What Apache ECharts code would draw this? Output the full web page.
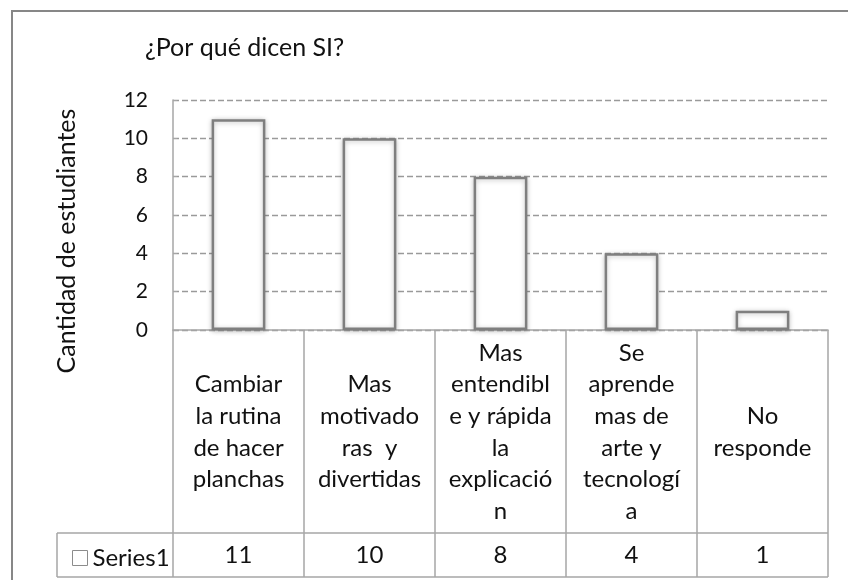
<!DOCTYPE html>
<html><head><meta charset="utf-8">
<script src="https://cdn.jsdelivr.net/npm/echarts@6/dist/echarts.min.js"></script>
<style>html,body{margin:0;padding:0;background:#fff}#c{width:848px;height:580px}</style>
</head><body><div id="c"></div>
<script>
const titleText = '¿Por qué dicen SI?';
const yAxisName = 'Cantidad de estudiantes';
const seriesName = 'Series1';
const categories = [
  'Cambiar\nla rutina\nde hacer\nplanchas',
  'Mas\nmotivado\nras  y\ndivertidas',
  'Mas\nentendibl\ne y rápida\nla\nexplicació\nn',
  'Se\naprende\nmas de\narte y\ntecnologí\na',
  'No\nresponde'
];
const values = [11, 10, 8, 4, 1];
const yTicks = [0, 2, 4, 6, 8, 10, 12];

const FONT = 'Lato, "Open Sans", sans-serif';
const H = 580, W = 848;
const G = {left: 173, right: W - 828, top: 100, bottom: H - 330};
const tableBottom = 577, rowLine = 533, tableLeft = 57;
const lineCol = '#a6a6a6';

const chart = echarts.init(document.getElementById('c'), null, {renderer: 'canvas'});
chart.setOption({
  animation: false,
  backgroundColor: '#fff',
  title: {text: titleText, left: 140, top: 30, textStyle: {fontFamily: FONT, fontSize: 25, fontWeight: 'normal', color: '#111'}},
  grid: G,
  xAxis: [{
    type: 'category', data: categories, position: 'bottom',
    axisLine: {show: true, lineStyle: {color: lineCol, width: 1.5}},
    axisTick: {show: true, alignWithLabel: false, interval: 0, length: tableBottom - (H - G.bottom), lineStyle: {color: lineCol, width: 1.5}},
    axisLabel: {interval: 0, margin: 102, verticalAlign: 'middle', align: 'center', fontFamily: FONT, fontSize: 24, lineHeight: 31.6, color: '#111'}
  }, {
    type: 'category', data: values.map(String), position: 'bottom', offset: rowLine - (H - G.bottom),
    axisLine: {show: false}, axisTick: {show: false},
    axisLabel: {interval: 0, margin: 22, verticalAlign: 'middle', fontFamily: FONT, fontSize: 24, color: '#111'}
  }],
  yAxis: {
    type: 'value', min: 0, max: 12, interval: 2,
    axisLine: {show: true, lineStyle: {color: lineCol, width: 1.5}},
    axisTick: {show: true, inside: true, length: 4, lineStyle: {color: lineCol}},
    axisLabel: {margin: 25, fontFamily: FONT, fontSize: 21, color: '#111', formatter: v => yTicks.includes(v) ? String(v) : ''},
    splitLine: {show: true, lineStyle: {color: '#9a9a9a', type: [6, 3], width: 1.3}}
  },
  legend: {show: true, left: tableLeft + 10, top: 541, itemWidth: 15, itemHeight: 15, itemGap: 4,
    icon: 'rect', textStyle: {fontFamily: FONT, fontSize: 24, color: '#111'},
    data: [{name: seriesName, itemStyle: {color: '#fff', borderColor: '#8c8c8c', borderWidth: 1}}]},
  series: [{
    name: seriesName, type: 'bar', data: values, barWidth: '41%',
    itemStyle: {color: '#fff', borderColor: '#7f7f7f', borderWidth: 2.5, shadowBlur: 5, shadowColor: 'rgba(0,0,0,0.25)', shadowOffsetY: 1}
  }],
  graphic: [
    {type: 'rect', shape: {x: 12, y: 11, width: W + 20, height: H + 20}, style: {fill: null, stroke: '#878787', lineWidth: 2}, z: -1, silent: true},
    {type: 'text', x: 67, y: 241, rotation: Math.PI / 2, style: {text: yAxisName, fontFamily: FONT, fontSize: 25, fill: '#111', align: 'center', verticalAlign: 'middle'}},
    {type: 'line', shape: {x1: tableLeft, y1: rowLine, x2: W - G.right, y2: rowLine}, style: {stroke: lineCol, lineWidth: 1.5}},
    {type: 'line', shape: {x1: tableLeft, y1: tableBottom, x2: W - G.right, y2: tableBottom}, style: {stroke: lineCol, lineWidth: 1.5}},
    {type: 'line', shape: {x1: tableLeft, y1: rowLine, x2: tableLeft, y2: tableBottom}, style: {stroke: lineCol, lineWidth: 1.5}}
  ]
});
</script></body></html>
